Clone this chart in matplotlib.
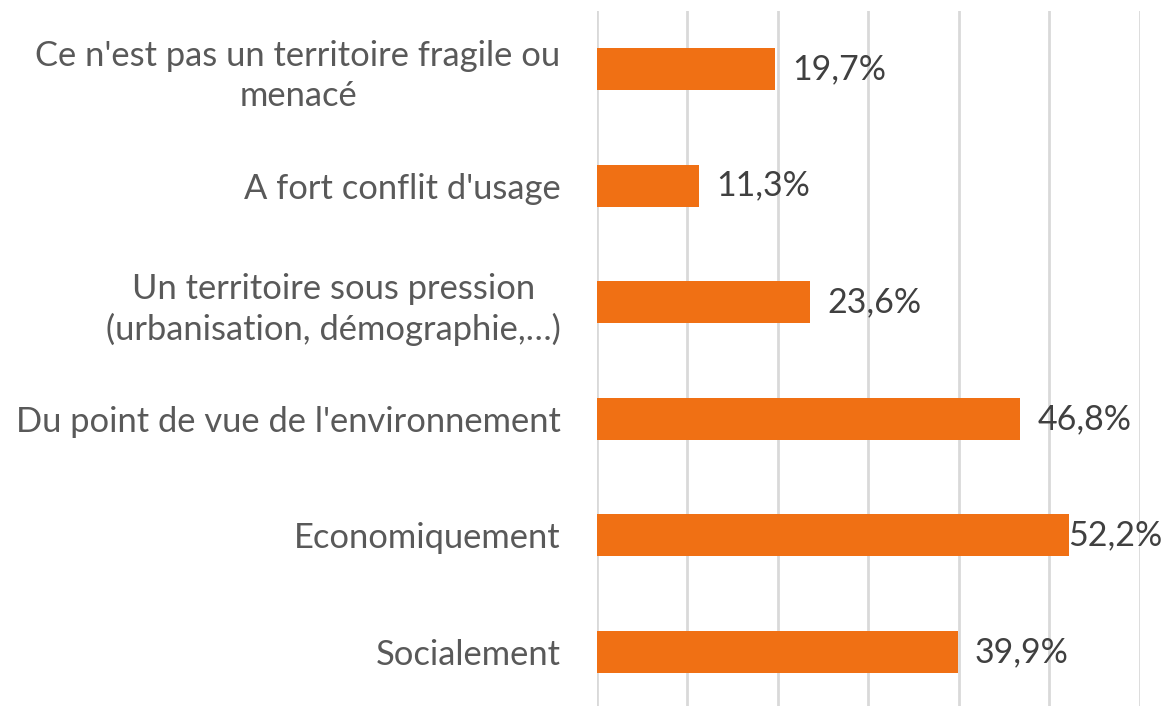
import matplotlib
matplotlib.use("Agg")
import matplotlib.pyplot as plt

categories = [
    "Ce n'est pas un territoire fragile ou\nmenacé",
    "A fort conflit d'usage",
    "Un territoire sous pression\n(urbanisation, démographie,…)",
    "Du point de vue de l'environnement",
    "Economiquement",
    "Socialement",
]
values = [19.7, 11.3, 23.6, 46.8, 52.2, 39.9]
value_labels = ["19,7%", "11,3%", "23,6%", "46,8%", "52,2%", "39,9%"]

bar_color = "#F07014"
font = ["Lato", "DejaVu Sans"]

W, H = 1166, 706
fig = plt.figure(figsize=(W / 100, H / 100), dpi=100)
ax = fig.add_axes([596.7 / W, (H - 710.3) / H, (1139.7 - 596.7) / W, (710.3 - 10.7) / H])

ypos = list(range(len(categories)))
ax.barh(ypos, values, height=0.36, color=bar_color, zorder=3)
ax.set_ylim(len(categories) - 0.5, -0.5)
ax.set_xlim(0, 60)
ax.set_xticks([0, 10, 20, 30, 40, 50, 60])
ax.xaxis.grid(True, color="#d9d9d9", linewidth=2, zorder=0)
ax.tick_params(axis="x", length=0, labelbottom=False)
ax.tick_params(axis="y", length=0, pad=26)
ax.set_yticks(ypos)
ax.set_yticklabels(categories, fontsize=24.8, color="#595959", family=font,
                   multialignment="center", linespacing=1.3)
for s in ax.spines.values():
    s.set_visible(False)

texts = []
for y, v, lab in zip(ypos, values, value_labels):
    t = ax.annotate(lab, (v, y), xytext=(17, 0), textcoords="offset pixels",
                    ha="left", va="center", fontsize=24.5, color="#404040",
                    family=font, clip_on=False)
    texts.append(t)

# keep labels inside the figure (as the spreadsheet does)
fig.canvas.draw()
renderer = fig.canvas.get_renderer()
for t in texts:
    bb = t.get_window_extent(renderer)
    over = bb.x1 - (W - 4)
    if over > 0:
        x, y = t.get_position() if False else t.xyann
        t.xyann = (x - over, y)

fig.savefig("out.png", dpi=100)
